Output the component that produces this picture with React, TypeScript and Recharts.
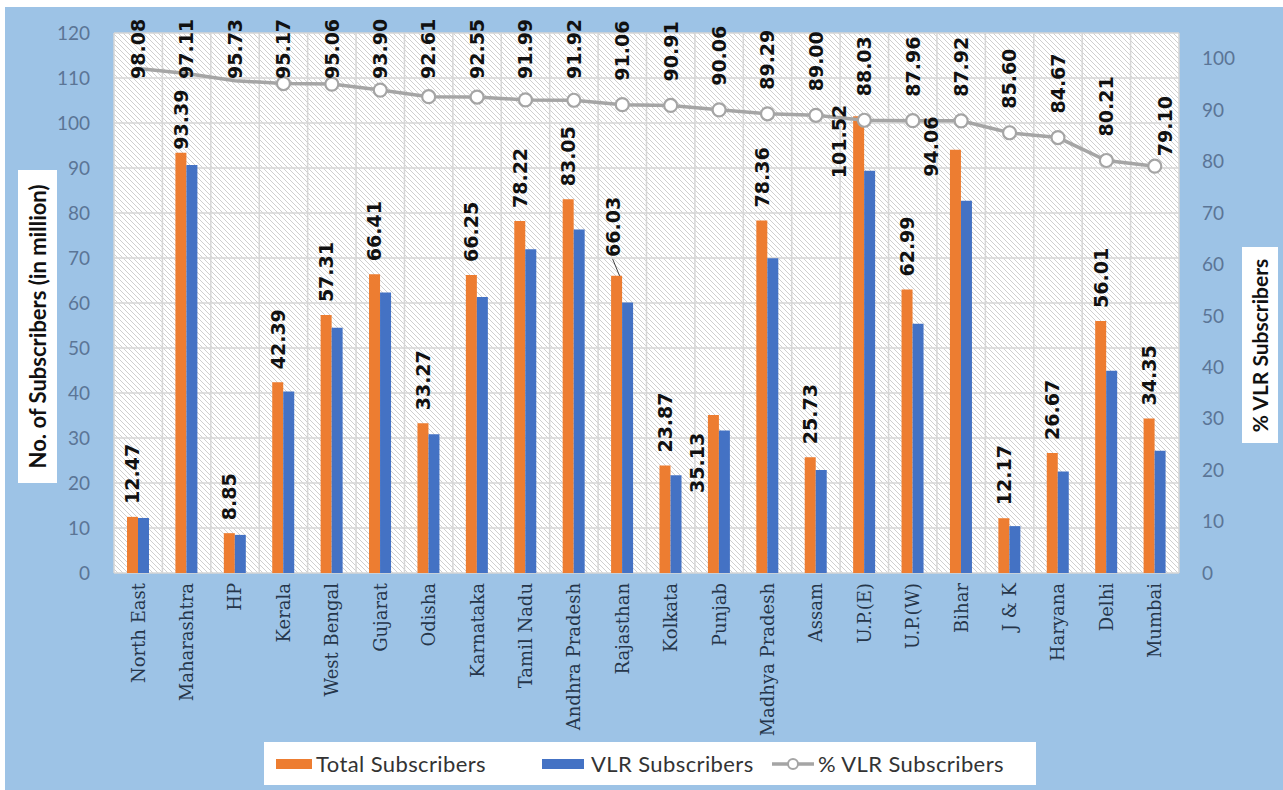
import React from 'react';
import { ComposedChart, Bar, Line, XAxis, YAxis, CartesianGrid, LabelList } from 'recharts';

const categories = ['North East', 'Maharashtra', 'HP', 'Kerala', 'West Bengal', 'Gujarat', 'Odisha', 'Karnataka', 'Tamil Nadu', 'Andhra Pradesh', 'Rajasthan', 'Kolkata', 'Punjab', 'Madhya Pradesh', 'Assam', 'U.P.(E)', 'U.P.(W)', 'Bihar', 'J & K', 'Haryana', 'Delhi', 'Mumbai'];
const totalSubscribers = [12.47, 93.39, 8.85, 42.39, 57.31, 66.41, 33.27, 66.25, 78.22, 83.05, 66.03, 23.87, 35.13, 78.36, 25.73, 101.52, 62.99, 94.06, 12.17, 26.67, 56.01, 34.35];
const vlrSubscribers = [12.23, 90.69, 8.47, 40.34, 54.48, 62.36, 30.81, 61.31, 71.95, 76.34, 60.13, 21.70, 31.64, 69.97, 22.90, 89.37, 55.41, 82.70, 10.42, 22.58, 44.93, 27.17];
const vlrPercent = [98.08, 97.11, 95.73, 95.17, 95.06, 93.90, 92.61, 92.55, 91.99, 91.92, 91.06, 90.91, 90.06, 89.29, 89.00, 88.03, 87.96, 87.92, 85.60, 84.67, 80.21, 79.10];
const leftTicks = [0, 10, 20, 30, 40, 50, 60, 70, 80, 90, 100, 110, 120];
const rightTicks = [0, 10, 20, 30, 40, 50, 60, 70, 80, 90, 100];

const data = categories.map((name, i) => ({
  name,
  total: totalSubscribers[i],
  vlr: vlrSubscribers[i],
  pct: vlrPercent[i],
}));

const ORANGE = '#ED7D31';
const BLUE = '#4472C4';
const GREY = '#A5A5A5';
const BG = '#9DC3E6';
const LABEL_FONT = '"DejaVu Sans", sans-serif';

// label placement tweaks (styling only)
const barLabelPlace: Record<string, { dx: number; gap: number; leader?: boolean }> = {
  Maharashtra: { dx: 0, gap: 3 },
  Rajasthan: { dx: -3, gap: 19, leader: true },
  Punjab: { dx: -16, gap: -78 },
  'U.P.(E)': { dx: -19, gap: -62 },
  Bihar: { dx: -24, gap: -27 },
};
const lineLabelPlace: Record<string, { dx: number; gap: number }> = {
  Mumbai: { dx: 10, gap: 10 },
};

const BarLabel = (props: any) => {
  const { x, y, width, value, index } = props;
  const name = categories[index];
  const p = barLabelPlace[name] || { dx: 0, gap: 13 };
  const cx = x + width / 2 + p.dx;
  const bottom = y - p.gap;
  return (
    <g>
      {p.leader && (
        <line x1={cx - 1} y1={bottom + 2} x2={x + width / 2 + 3} y2={y} stroke="#404040" strokeWidth={1} />
      )}
      <text
        x={cx}
        y={bottom}
        transform={`rotate(-90, ${cx}, ${bottom})`}
        textAnchor="start"
        dy="0.36em"
        fontFamily={LABEL_FONT}
        fontWeight="bold"
        fontSize={19}
        fill="#111"
      >
        {Number(value).toFixed(2)}
      </text>
    </g>
  );
};

const lineLabelBottom = (cy: number) => Math.max(cy - 24, 79);

const LineLabel = (props: any) => {
  const { x, y, value, index } = props;
  const name = categories[index];
  const p = lineLabelPlace[name];
  const cx = x + (p ? p.dx : 0);
  const bottom = p ? y - p.gap : lineLabelBottom(y);
  return (
    <text
      x={cx}
      y={bottom}
      transform={`rotate(-90, ${cx}, ${bottom})`}
      textAnchor="start"
      dy="0.36em"
      fontFamily={LABEL_FONT}
      fontWeight="bold"
      fontSize={19}
      fill="#111"
    >
      {Number(value).toFixed(2)}
    </text>
  );
};

const LineDot = (props: any) => {
  const { cx, cy, index } = props;
  const name = categories[index];
  const hidden = !lineLabelPlace[name] && lineLabelBottom(cy) > cy - 4;
  if (hidden) return <g key={`d${index}`} />;
  return <circle key={`d${index}`} cx={cx} cy={cy} r={6.5} fill="#fff" stroke={GREY} strokeWidth={2.2} />;
};

const XTick = (props: any) => {
  const { x, y, payload } = props;
  return (
    <text
      x={x}
      y={y}
      transform={`rotate(-90, ${x}, ${y})`}
      textAnchor="end"
      dy="0.36em"
      fontFamily='"DejaVu Serif", serif'
      fontSize={18}
      fill="#26364a"
    >
      {payload.value}
    </text>
  );
};

const tickStyle = { fontFamily: 'Lato, sans-serif', fontSize: 19, fill: '#5b7596' };

const legendText: React.CSSProperties = {
  position: 'absolute', top: 0, height: 43, lineHeight: '43px',
  fontFamily: 'Lato, sans-serif', fontSize: 22, letterSpacing: 0.4, color: '#333', whiteSpace: 'nowrap',
};

export default function App() {
  return (
    <div style={{ position: 'absolute', left: 0, top: 0, width: 1283, height: 790, background: '#fff' }}>
      <div style={{ position: 'absolute', left: 5, top: 7, width: 1278, height: 783, background: BG }} />
      <div style={{ position: 'absolute', left: 0, top: 0 }}>
        <ComposedChart
          width={1283}
          height={790}
          data={data}
          margin={{ top: 33, right: 0, bottom: 0, left: 0 }}
          barGap={0}
          barSize={11}
        >
          <defs>
            <pattern id="hatch" width="5" height="5" patternUnits="userSpaceOnUse">
              <rect width="5" height="5" fill="#ffffff" />
              <path d="M0,0 L5,5 M-1,4 L1,6 M4,-1 L6,1" stroke="#cfcfcf" strokeWidth="1" />
            </pattern>
          </defs>
          <CartesianGrid
            yAxisId="left"
            fill="url(#hatch)"
            fillOpacity={1}
            stroke="#d6d6d6"
            strokeWidth={1.5}
            verticalCoordinatesGenerator={({ offset }: any) =>
              categories.map((_, i) => offset.left + (i * offset.width) / categories.length).concat([offset.left + offset.width])
            }
          />
          <XAxis
            dataKey="name"
            height={217}
            interval={0}
            axisLine={false}
            tickLine={false}
            tickSize={0}
            tickMargin={10}
            tick={<XTick />}
          />
          <YAxis
            yAxisId="left"
            orientation="left"
            width={114}
            domain={[0, 120]}
            ticks={leftTicks}
            interval={0}
            axisLine={false}
            tickLine={false}
            tickSize={0}
            tickMargin={24}
            tick={tickStyle}
          />
          <YAxis
            yAxisId="right"
            orientation="right"
            width={104}
            domain={[0, 105]}
            ticks={rightTicks}
            interval={0}
            axisLine={false}
            tickLine={false}
            tickSize={0}
            tickMargin={23}
            tick={{ ...tickStyle, textAnchor: 'start' }}
          />
          <Bar yAxisId="left" dataKey="total" name="Total Subscribers" fill={ORANGE} isAnimationActive={false}>
            <LabelList dataKey="total" content={<BarLabel />} />
          </Bar>
          <Bar yAxisId="left" dataKey="vlr" name="VLR Subscribers" fill={BLUE} isAnimationActive={false} />
          <Line
            yAxisId="right"
            dataKey="pct"
            name="% VLR Subscribers"
            stroke={GREY}
            strokeWidth={3.5}
            dot={<LineDot />}
            activeDot={false}
            isAnimationActive={false}
          >
            <LabelList dataKey="pct" content={<LineLabel />} />
          </Line>
        </ComposedChart>
      </div>
      <div
        style={{
          position: 'absolute', left: 18, top: 170, width: 39, height: 313, background: '#fff',
          display: 'flex', alignItems: 'center', justifyContent: 'center',
        }}
      >
        <div style={{ transform: 'rotate(-90deg)', whiteSpace: 'nowrap', fontFamily: 'Lato, sans-serif', fontWeight: 'bold', fontSize: 22, color: '#111' }}>
          No. of Subscribers (in million)
        </div>
      </div>
      <div
        style={{
          position: 'absolute', left: 1242, top: 247, width: 36, height: 196, background: '#fff',
          display: 'flex', alignItems: 'center', justifyContent: 'center',
        }}
      >
        <div style={{ transform: 'rotate(-90deg)', whiteSpace: 'nowrap', fontFamily: 'Lato, sans-serif', fontWeight: 'bold', fontSize: 21, color: '#111' }}>
          % VLR Subscribers
        </div>
      </div>
      <div style={{ position: 'absolute', left: 264, top: 742, width: 772, height: 43, background: '#fff' }}>
        <div style={{ position: 'absolute', left: 12, top: 17, width: 36, height: 10, background: ORANGE }} />
        <span style={{ ...legendText, left: 52 }}>Total Subscribers</span>
        <div style={{ position: 'absolute', left: 278, top: 17, width: 42, height: 10, background: BLUE }} />
        <span style={{ ...legendText, left: 327 }}>VLR Subscribers</span>
        <svg style={{ position: 'absolute', left: 508, top: 14 }} width={42} height={16}>
          <line x1={0} y1={8} x2={42} y2={8} stroke={GREY} strokeWidth={3.5} />
          <circle cx={21} cy={8} r={5} fill="#fff" stroke={GREY} strokeWidth={2} />
        </svg>
        <span style={{ ...legendText, left: 554 }}>% VLR Subscribers</span>
      </div>
    </div>
  );
}
